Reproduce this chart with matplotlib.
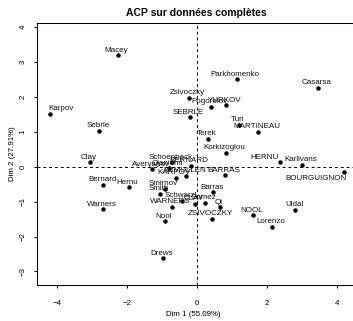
import matplotlib
matplotlib.use("Agg")
import matplotlib.pyplot as plt

plt.rcParams['font.family'] = ['Liberation Sans', 'DejaVu Sans']

# individual names and coordinates on the first two dimensions
names = ["SEBRLE", "CLAY", "KARPOV", "BERNARD", "YURKOV", "WARNERS", "ZSIVOCZKY",
         "McMULLEN", "MARTINEAU", "HERNU", "BARRAS", "NOOL", "BOURGUIGNON",
         "Sebrle", "Clay", "Karpov", "Macey", "Warners", "Zsivoczky", "Hernu",
         "Nool", "Bernard", "Schwarzl", "Pogorelov", "Schoenbeck", "Barras",
         "Smith", "Averyanov", "Ojaniemi", "Smirnov", "Qi", "Drews",
         "Parkhomenko", "Terek", "Gomez", "Turi", "Lorenzo", "Karlivans",
         "Korkizoglou", "Uldal", "Casarsa"]
dim1 = [-0.20, -0.06, -0.61, -0.18, 0.83, -0.71, 0.42,
        -0.32, 1.76, 2.39, 0.80, 1.61, 4.21,
        -2.79, -3.05, -4.20, -2.26, -2.69, -0.22, -1.95,
        -0.91, -2.67, -0.42, 0.40, -0.71, 0.47,
        -1.06, -1.29, -0.80, -0.91, 0.66, -0.96,
        1.14, 0.32, 0.23, 1.21, 2.16, 3.01,
        0.82, 2.82, 3.47]
dim2 = [1.42, -1.07, -0.31, 0.03, 1.76, -1.14, -1.50,
        -0.26, 1.00, 0.13, -0.24, -1.39, -0.14,
        1.03, 0.13, 1.51, 3.19, -1.22, 1.97, -0.59,
        -1.56, -0.51, -0.97, 1.72, 0.13, -0.73,
        -0.78, -0.07, -0.04, -0.64, -1.16, -2.62,
        2.51, 0.81, -1.03, 1.20, -1.73, 0.05,
        0.40, -1.23, 2.27]

# labels that are not simply centred above their point
special = {"Karpov": ((-1.5, 2.6), 'left', 'baseline'),
           "HERNU": ((-1, 2.6), 'right', 'baseline'),
           "BOURGUIGNON": ((2, -2.5), 'right', 'top')}

fig = plt.figure(figsize=(3.53, 3.21), dpi=100)
ax = fig.add_axes([36.7/353, 1 - 285/321, 319.3/353, 262.3/321])

ax.axhline(0, color='black', lw=0.7, dashes=(3, 3), zorder=1)
ax.axvline(0, color='black', lw=0.7, dashes=(3, 3), zorder=1)
ax.plot(dim1, dim2, 'o', color='black', ms=2.2, zorder=3)

for n, x, y in zip(names, dim1, dim2):
    off, ha, va = special.get(n, ((-1, 2.6), 'center', 'baseline'))
    ax.annotate(n, (x, y), xytext=off, textcoords='offset points',
                ha=ha, va=va, fontsize=5.8, color='#111111', zorder=4)

ax.set_xlim(-4.58, 4.55)
ax.set_ylim(-3.39, 4.13)
ax.set_xticks([-4, -2, 0, 2, 4])
ax.set_yticks([-3, -2, -1, 0, 1, 2, 3, 4])
ax.tick_params(axis='x', length=2.5, width=0.7, labelsize=5.7, pad=8.5)
ax.tick_params(axis='y', length=2.5, width=0.7, labelsize=5.7, pad=4.7)
for t in ax.get_yticklabels():
    t.set_rotation(90)
    t.set_va('center')
for s in ax.spines.values():
    s.set_linewidth(0.75)

ax.set_title("ACP sur données complètes", fontsize=7.5, fontweight='bold', pad=5)
ax.set_xlabel("Dim 1 (55.09%)", fontsize=5.7)
ax.set_ylabel("Dim 2 (27.91%)", fontsize=5.7)
ax.xaxis.set_label_coords(0.49, -0.1)
ax.yaxis.set_label_coords(-0.077, 0.5)
ax.yaxis.label.set_va('center')

fig.savefig("out.png", dpi=100)
